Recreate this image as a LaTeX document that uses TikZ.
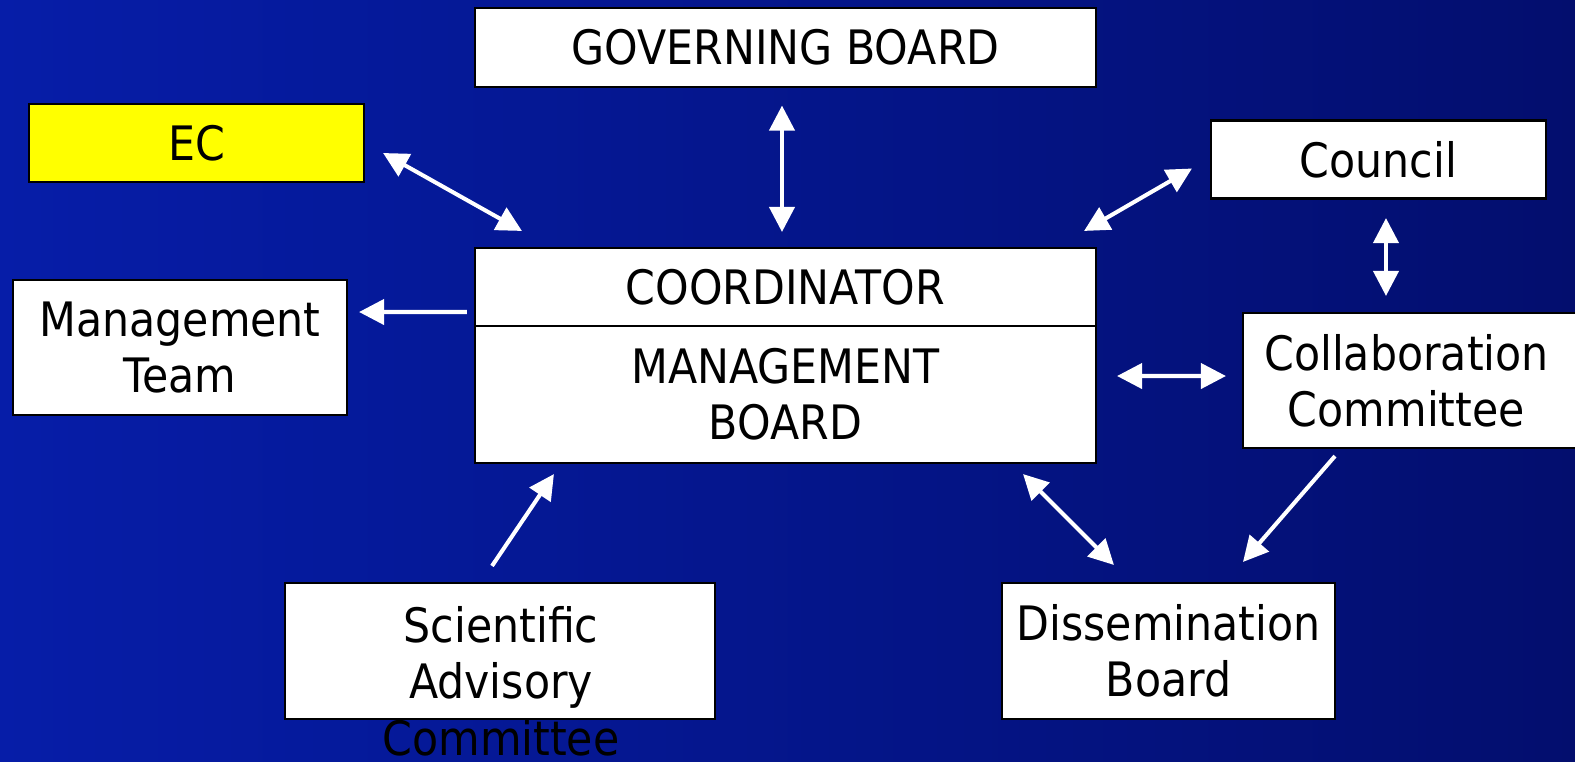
\documentclass[tikz,border=0pt]{standalone}
\usepackage{fontspec}
\setmainfont{DejaVu Sans}[FakeStretch=0.9]
\usetikzlibrary{arrows.meta}
\definecolor{bgleft}{RGB}{6,29,168}
\definecolor{bgright}{RGB}{3,14,110}
\definecolor{ecyellow}{RGB}{255,255,0}
\tikzset{
	box/.style={draw=black, line width=0.6pt, fill=white, inner sep=0pt, align=center, font=\fontsize{13.5}{16}\selectfont},
	link/.style={white, line width=1.15pt, {Triangle[length=2.5mm,width=2.5mm]}-{Triangle[length=2.5mm,width=2.5mm]}},
	linkto/.style={white, line width=1.15pt, -{Triangle[length=2.5mm,width=2.5mm]}}
}

\begin{document}
\begin{tikzpicture}
		%%%%% START %%%%%
		
		\useasboundingbox (0, 0) rectangle (15.75, -7.61);
		\shade[left color=bgleft, right color=bgright] (0, 0) rectangle (15.75, -7.61);
		
		\node[box, minimum width=6.21cm, minimum height=0.79cm] (gb) at (7.855, -0.475) {GOVERNING BOARD};
		\node[box, fill=ecyellow, minimum width=3.35cm, minimum height=0.78cm] (ec) at (1.965, -1.43) {EC};
		\node[box, minimum width=3.35cm, minimum height=0.78cm] (council) at (13.785, -1.595) {Council};
		\node[box, minimum width=3.34cm, minimum height=1.35cm] (mt) at (1.80, -3.475) {Management\\Team};
		
		\node[box, minimum width=6.21cm, minimum height=0.78cm] (coord) at (7.855, -2.87) {COORDINATOR};
		\node[box, minimum width=6.21cm, minimum height=1.37cm] (mb) at (7.855, -3.945) {MANAGEMENT\\BOARD};
		
		\node[box, minimum width=3.47cm, minimum height=1.35cm] (collab) at (14.165, -3.805) {\hspace*{-0.2cm}Collaboration\\\hspace*{-0.2cm}Committee};
		
		\node[box, minimum width=4.30cm, minimum height=1.36cm] (sac) at (5.00, -6.51) {};
		\node[box, draw=none, fill=none, anchor=north] (sactext) at (5.01, -6.055) {Scientific\\Advisory\\Committee};
		\node[box, minimum width=3.33cm, minimum height=1.36cm] (diss) at (11.685, -6.51) {Dissemination\\Board};
		
		%%%%% ARROWS %%%%%
		
		\draw[link] ([xshift=0.18cm, yshift=-0.10cm]ec.east) -- ([xshift=0.48cm, yshift=0.16cm]coord.north west);
		\draw[link] ([xshift=-0.035cm, yshift=-0.175cm]gb.south) -- ([xshift=-0.035cm, yshift=0.15cm]coord.north);
		\draw[link] ([xshift=-0.18cm, yshift=-0.09cm]council.west) -- ([xshift=-0.13cm, yshift=0.16cm]coord.north east);
		\draw[linkto] ([xshift=-0.07cm, yshift=-0.25cm]coord.west) -- ([xshift=0.11cm, yshift=0.355cm]mt.east);
		
		\draw[link] ([xshift=0.075cm, yshift=-0.185cm]council.south) -- ([xshift=0.075cm, yshift=0.16cm]council.south |- collab.north);
		\draw[link] ([xshift=0.20cm, yshift=0.185cm]mb.east) -- ([xshift=-0.16cm, yshift=0.045cm]collab.west);
		\draw[linkto] ([xshift=-0.815cm, yshift=-0.07cm]collab.south) -- ([xshift=0.745cm, yshift=0.20cm]diss.north);
		\draw[link] ([xshift=-0.74cm, yshift=-0.10cm]mb.south east) -- ([xshift=1.13cm, yshift=0.17cm]diss.north west);
		\draw[linkto] ([xshift=-0.08cm, yshift=0.16cm]sac.north) -- ([xshift=0.80cm, yshift=-0.10cm]mb.south west);
		
		%%%%% END %%%%%
\end{tikzpicture}
\end{document}
